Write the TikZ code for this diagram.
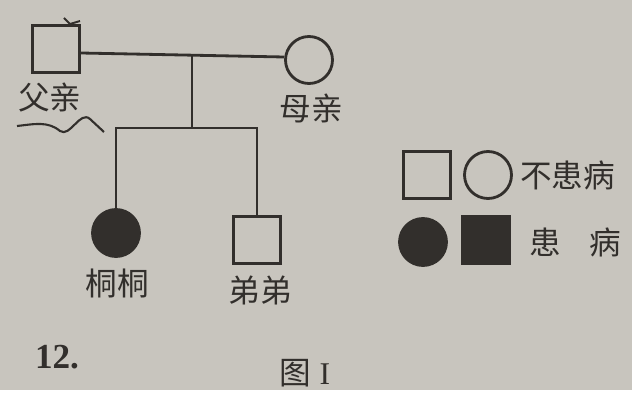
\documentclass[tikz,border=0pt]{standalone}
\usepackage{fontspec}
\setmainfont{Liberation Serif}
\newfontfamily\cjk{Noto Sans CJK SC}
\definecolor{paper}{RGB}{200,197,190}
\definecolor{ink}{RGB}{50,47,44}
\tikzset{
  male/.style={rectangle,draw=ink,line width=1.6pt,minimum size=0.94cm,inner sep=0pt},
  female/.style={circle,draw=ink,line width=1.6pt,minimum size=0.94cm,inner sep=0pt},
  ill/.style={fill=ink},
  lbl/.style={font=\cjk\fontsize{18}{18}\selectfont,text=ink,inner sep=0pt}
}
\begin{document}
\begin{tikzpicture}[x=0.02cm,y=-0.02cm]
  \fill[paper] (0,0) rectangle (632,390);
  % family members
  \node[male] (father) at (56,49) {};
  \node[female] (mother) at (309,60) {};
  \node[female,ill] (tongtong) at (116,233) {};
  \node[male] (brother) at (257,240) {};
  \coordinate (couple) at (192,55);
  \coordinate (sibs) at (192,128);
  % names
  \node[lbl] (fathername) at (50,98) {父亲};
  \node[lbl] (mothername) at (311,108) {母亲};
  \node[lbl] (tongtongname) at (117,283) {桐桐};
  \node[lbl] (brothername) at (260,290) {弟弟};
  \begin{scope}[draw=ink,line width=1.6pt]
    \draw ([yshift=-0.08cm]father.east) -- ([yshift=0.06cm]mother.west);
    \draw (couple) -- (sibs);
    \draw (sibs) -| (tongtong.north);
    \draw (sibs) -| (brother.north);
  \end{scope}
  % pen marks
  \draw[ink,line width=1.2pt] (17,126) .. controls (35,124) and (48,121) .. (60,131)
    .. controls (70,138) and (80,110) .. (90,119) .. controls (97,126) .. (104,132);
  \draw[ink,line width=1.1pt] (64,18) -- (70,24) -- (80,21);
  % key
  \node[male] (keymale) at (427,175) {};
  \node[female] (keyfemale) at (488,175) {};
  \node[lbl,anchor=west] (keyhealthy) at (520,175) {不患病};
  \node[female,ill] (keyfemaleill) at (423,242) {};
  \node[male,ill] (keymaleill) at (486,240) {};
  \node[lbl] (keyill1) at (545,242) {患};
  \node[lbl] (keyill2) at (605,242) {病};
  % numbering and caption
  \node[text=ink,font=\bfseries\fontsize{20}{20}\selectfont] (qnum) at (57,357) {12.};
  \node[text=ink,font=\fontsize{18}{18}\selectfont] (caption) at (305,373) {{\cjk 图}\ I};
\end{tikzpicture}
\end{document}
